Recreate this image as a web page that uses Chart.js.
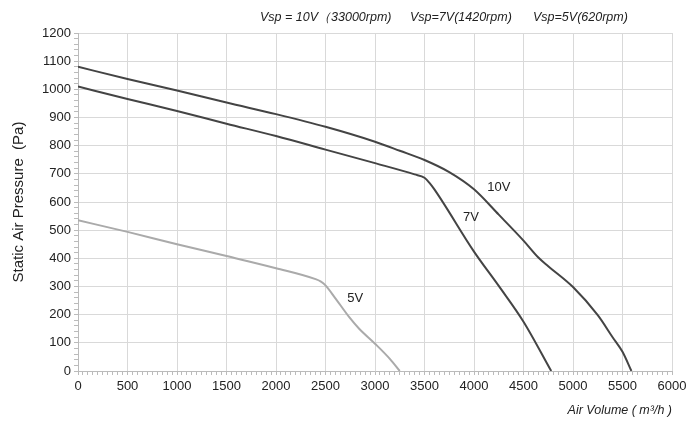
<!DOCTYPE html>
<html>
<head>
<meta charset="utf-8">
<script src="https://cdn.jsdelivr.net/npm/chart.js@4"></script>
<style>
  html, body { margin: 0; padding: 0; background: #fff; }
  #wrap { width: 700px; height: 430px; }
</style>
</head>
<body>
<div id="wrap"><canvas id="fanChart"></canvas></div>
<script>
'use strict';

// curve data (air volume m3/h, pressure Pa)
const volume10 = [0, 500, 1000, 1500, 2000, 2500, 3000, 3250, 3500, 3750, 4000, 4250, 4500, 4650, 4750, 5000, 5250, 5400, 5500, 5590];
const pressure10 = [1080, 1037, 996, 953, 912, 867, 814, 782, 749, 706, 645, 555, 463, 403, 372, 298, 198, 120, 68, 0];

const volume7 = [0, 500, 1000, 1500, 2000, 2500, 3000, 3400, 3500, 3550, 3600, 4000, 4250, 4500, 4780];
const pressure7 = [1010, 966, 923, 878, 834, 786, 738, 698, 686, 668, 645, 424, 302, 175, 0];

const volume5 = [0, 500, 1000, 1500, 2000, 2400, 2450, 2500, 2600, 2740, 2840, 3000, 3150, 3250];
const pressure5 = [535, 494, 450, 408, 365, 326, 318, 304, 258, 191, 150, 97, 43, 0];

const curveNames = ['10V', '7V', '5V'];
const curveLabelAt = [[4250, 650], [3970, 545], [2800, 258]];
const headerTexts = ['Vsp = 10V（33000rpm)', 'Vsp=7V(1420rpm)', 'Vsp=5V(620rpm)'];

const font = 'Arial, "Liberation Sans", sans-serif';

function toPoints(xs, ys) {
  const pts = [];
  for (let i = 0; i < xs.length; i++) {
    pts.push({ x: xs[i], y: ys[i] });
  }
  return pts;
}

// header line and the 10V / 7V / 5V tags
const textPlugin = {
  id: 'textPlugin',
  afterDraw(chart) {
    const ctx = chart.ctx;
    const xs = chart.scales.x;
    const ys = chart.scales.y;
    ctx.save();
    ctx.fillStyle = '#222';
    ctx.textBaseline = 'middle';
    ctx.textAlign = 'left';
    ctx.font = 'italic 12.5px ' + font;
    ctx.fillText(headerTexts[0], 260, 18);
    ctx.fillText(headerTexts[1], 410, 18);
    ctx.fillText(headerTexts[2], 533, 18);

    ctx.textAlign = 'center';
    ctx.font = '13px ' + font;
    for (let i = 0; i < curveNames.length; i++) {
      ctx.fillText(curveNames[i], xs.getPixelForValue(curveLabelAt[i][0]), ys.getPixelForValue(curveLabelAt[i][1]));
    }
    ctx.restore();
  }
};

const ctx = document.getElementById('fanChart').getContext('2d');
const chart = new Chart(ctx, {
  type: 'scatter',
  data: {
    datasets: [{
      label: '10V',
      data: toPoints(volume10, pressure10),
      showLine: true,
      borderColor: '#444',
      borderWidth: 2,
      pointRadius: 0,
      cubicInterpolationMode: 'monotone'
    },
    {
      label: '7V',
      data: toPoints(volume7, pressure7),
      showLine: true,
      borderColor: '#444',
      borderWidth: 2,
      pointRadius: 0,
      cubicInterpolationMode: 'monotone'
    },
    {
      label: '5V',
      data: toPoints(volume5, pressure5),
      showLine: true,
      borderColor: '#aaa',
      borderWidth: 2,
      pointRadius: 0,
      cubicInterpolationMode: 'monotone'
    }]
  },
  options: {
    responsive: true,
    maintainAspectRatio: false,
    animation: false,
    layout: { padding: { top: 33, right: 28, left: 0, bottom: 0 } },
    plugins: {
      legend: { display: false },
      tooltip: { enabled: false }
    },
    scales: {
      x: {
        type: 'linear',
        min: 0,
        max: 6000,
        afterFit(scale) { scale.height = 59; },
        border: { color: '#bbb', width: 1 },
        grid: {
          color: (c) => (c.tick && c.tick.value % 500 === 0 ? '#d9d9d9' : 'rgba(0,0,0,0)'),
          tickColor: '#bbb',
          tickLength: 4,
          lineWidth: 1
        },
        ticks: {
          stepSize: 50,
          autoSkip: false,
          maxRotation: 0,
          padding: 4,
          color: '#222',
          font: { family: font, size: 13 },
          callback: (v) => (v % 500 === 0 ? v : '')
        },
        title: {
          display: true,
          text: 'Air Volume ( m³/h )',
          align: 'end',
          color: '#222',
          font: { family: font, size: 12.5, style: 'italic' },
          padding: { top: 0, bottom: 12 }
        }
      },
      y: {
        min: 0,
        max: 1200,
        afterFit(scale) { scale.width = 78; },
        border: { color: '#bbb', width: 1 },
        grid: {
          color: (c) => (c.tick && c.tick.value % 100 === 0 ? '#d9d9d9' : 'rgba(0,0,0,0)'),
          tickColor: '#bbb',
          tickLength: 4,
          lineWidth: 1
        },
        ticks: {
          stepSize: 20,
          autoSkip: false,
          padding: 3,
          color: '#222',
          font: { family: font, size: 13 },
          callback: (v) => (v % 100 === 0 ? v : '')
        },
        title: {
          display: true,
          text: 'Static Air Pressure  (Pa)',
          color: '#222',
          font: { family: font, size: 15 },
          padding: { top: 10, bottom: 4 }
        }
      }
    }
  },
  plugins: [textPlugin]
});
</script>
</body>
</html>
